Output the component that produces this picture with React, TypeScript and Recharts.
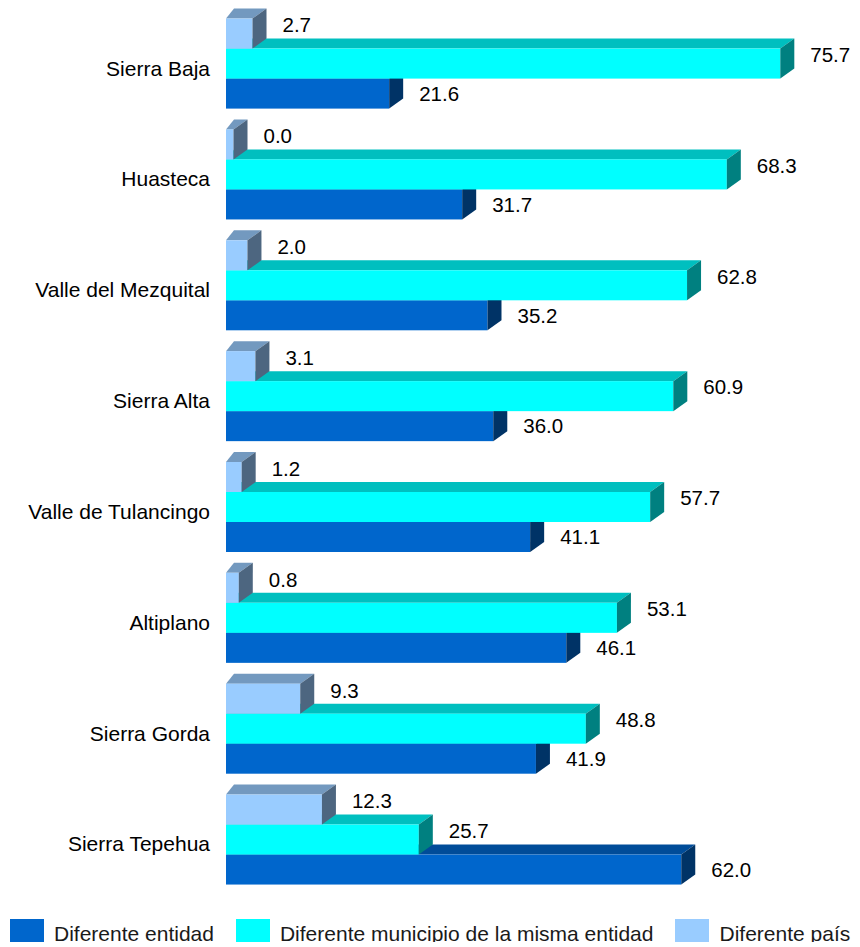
import { BarChart, Bar, XAxis, YAxis } from 'recharts';

const regions = [
  'Sierra Baja',
  'Huasteca',
  'Valle del Mezquital',
  'Sierra Alta',
  'Valle de Tulancingo',
  'Altiplano',
  'Sierra Gorda',
  'Sierra Tepehua',
];
const diferenteEntidad = [21.6, 31.7, 35.2, 36.0, 41.1, 46.1, 41.9, 62.0];
const diferenteMunicipio = [75.7, 68.3, 62.8, 60.9, 57.7, 53.1, 48.8, 25.7];
const diferentePais = [2.7, 0.0, 2.0, 3.1, 1.2, 0.8, 9.3, 12.3];

const data = regions.map((region, i) => ({
  region,
  entidad: diferenteEntidad[i],
  municipio: diferenteMunicipio[i],
  pais: diferentePais[i],
}));

// declared order = legend order = paint order; slot = visual position in the group (0 = top)
const series = [
  { key: 'entidad', name: 'Diferente entidad', front: '#0066CC', top: '#004C99', side: '#003366', order: 0, slot: 2, labelDy: 0 },
  { key: 'municipio', name: 'Diferente municipio de la misma entidad', front: '#00FFFF', top: '#00BFBF', side: '#008080', order: 1, slot: 1, labelDy: -9 },
  { key: 'pais', name: 'Diferente país', front: '#99CCFF', top: '#7399BF', side: '#4D6680', order: 2, slot: 0, labelDy: -8.5 },
];

const FONT = '"Liberation Sans", Arial, sans-serif';
const DX_L = 8;
const DX_R = 14;
const DY = 10;
const BASE = 7;

function bar3D(s: any) {
  return (props: any) => {
    const { x, y, width, height, payload } = props;
    const y0 = y + (s.slot - s.order) * height;
    const xl = x - BASE;
    const xr = x + width;
    const top = `${xl},${y0} ${xl + DX_L},${y0 - DY} ${xr + DX_R},${y0 - DY} ${xr},${y0}`;
    const side = `${xr},${y0} ${xr + DX_R},${y0 - DY} ${xr + DX_R},${y0 + height - DY} ${xr},${y0 + height}`;
    const cy = y0 + height / 2 + s.labelDy;
    return (
      <g>
        <polygon points={top} fill={s.top} />
        <rect x={xl} y={y0} width={xr - xl} height={height} fill={s.front} />
        <polygon points={side} fill={s.side} />
        <text x={xr + DX_R + 16} y={cy + 7.3} fontSize={20.5} fontFamily={FONT} fill="#000">
          {Number(payload[s.key]).toFixed(1)}
        </text>
      </g>
    );
  };
}

const RegionTick = (props: any) => {
  const { x, y, payload } = props;
  return (
    <text x={x - 23} y={y + 4 + 7.5} textAnchor="end" fontSize={21} fontFamily={FONT} fill="#000">
      {payload.value}
    </text>
  );
};

export default function App() {
  return (
    <div style={{ width: 852, fontFamily: FONT }}>
      <BarChart
        width={852}
        height={888}
        data={data}
        layout="vertical"
        margin={{ top: 0.6, right: 48.6, bottom: 0.6, left: 0 }}
        barSize={30}
        barGap={0}
      >
        <XAxis type="number" domain={[0, 80]} hide />
        <YAxis
          type="category"
          dataKey="region"
          width={225}
          axisLine={false}
          tickLine={false}
          tickSize={0}
          tickMargin={0}
          interval={0}
          tick={<RegionTick />}
        />
        {series.map((s) => (
          <Bar
            key={s.key}
            dataKey={s.key}
            name={s.name}
            fill={s.front}
            minPointSize={0.5}
            shape={bar3D(s)}
            isAnimationActive={false}
          />
        ))}
      </BarChart>
      <div
        style={{
          display: 'flex',
          alignItems: 'center',
          height: 23,
          marginTop: 23,
          marginLeft: 2,
          width: 850,
          whiteSpace: 'nowrap',
        }}
      >
        {series.map((s) => (
          <div key={s.key} style={{ display: 'flex', alignItems: 'center', marginRight: 22, flexShrink: 0 }}>
            <div style={{ width: 34, height: 23, background: s.front, flexShrink: 0 }} />
            <span
              style={{
                marginLeft: 10,
                fontSize: 21,
                color: '#1a1a1a',
                position: 'relative',
                top: 3,
                whiteSpace: 'nowrap',
              }}
            >
              {s.name}
            </span>
          </div>
        ))}
      </div>
    </div>
  );
}
